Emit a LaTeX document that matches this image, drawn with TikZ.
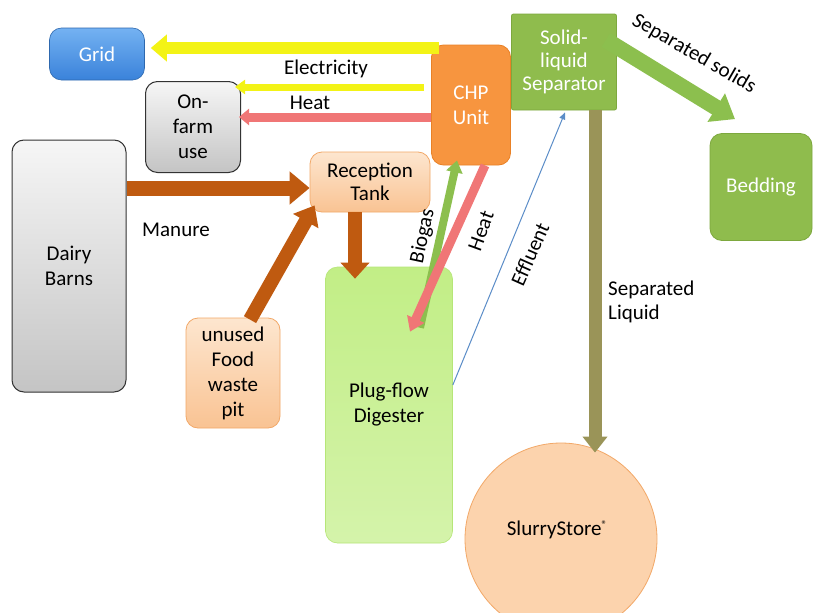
\documentclass[tikz,border=0pt]{standalone}
\usepackage{fontspec}
\setmainfont{Carlito}
\usetikzlibrary{arrows.meta,shapes.geometric,calc}
\definecolor{gridtop}{HTML}{74B2F2}
\definecolor{gridbot}{HTML}{3A82DA}
\definecolor{graytop}{HTML}{F6F6F6}
\definecolor{graybot}{HTML}{C4C4C4}
\definecolor{peachtop}{HTML}{FDE6CF}
\definecolor{peachbot}{HTML}{F9C393}
\definecolor{peachline}{HTML}{F2A868}
\definecolor{diggtop}{HTML}{C2EE86}
\definecolor{diggbot}{HTML}{B6E678}
\definecolor{chporange}{HTML}{F7953F}
\definecolor{chpline}{HTML}{E98126}
\definecolor{sepgreen}{HTML}{8FBC4D}
\definecolor{sepline}{HTML}{7DA83E}
\definecolor{elecyellow}{HTML}{F3F316}
\definecolor{heatred}{HTML}{F07676}
\definecolor{manbrown}{HTML}{BF5A10}
\definecolor{biogreen}{HTML}{8CBF4E}
\definecolor{liqkhaki}{HTML}{9A9458}
\definecolor{effblue}{HTML}{5B8DC8}
\definecolor{slurryfill}{HTML}{FCD3AD}
\begin{document}
\begin{tikzpicture}[x=1pt,y=-1pt,
  font=\fontsize{21}{25}\selectfont,
  box/.style={rounded corners=12pt, align=center, inner sep=2pt},
  graybox/.style={box, draw=black!80, line width=1pt, top color=graytop, bottom color=graybot},
  peachbox/.style={box, draw=peachline, line width=0.8pt, top color=peachtop, bottom color=peachbot},
  gridbox/.style={box, draw=gridbot!80!black, line width=0.6pt, top color=gridtop, bottom color=gridbot, text=white},
  chpbox/.style={box, draw=chpline, line width=0.8pt, fill=chporange, text=white},
  sepbox/.style={align=center, rounded corners=2pt, draw=sepline, line width=0.8pt, fill=sepgreen, text=white},
  bedbox/.style={box, draw=sepline, line width=0.8pt, fill=sepgreen, text=white},
  digbox/.style={box, draw=diggbot, line width=0.6pt, top color=diggtop, bottom color=diggtop!70!white},
  flow/.style={line cap=butt},
  lbl/.style={inner sep=0pt, align=left}
]
\clip (0,0) rectangle (814,613);
\fill[white] (0,0) rectangle (814,613);

% nodes
\node[gridbox, minimum width=95pt, minimum height=52pt] (grid) at (97,54) {Grid};
\node[graybox, minimum width=95pt, minimum height=91pt] (onfarm) at (193,127) {On-\\farm\\use};
\node[graybox, minimum width=114pt, minimum height=252pt] (dairy) at (69,266) {Dairy\\Barns};
\node[peachbox, minimum width=120pt, minimum height=60pt, font=\fontsize{21}{23}\selectfont] (recep) at (370,182) {Reception\\Tank};
\node[peachbox, minimum width=94pt, minimum height=110pt] (food) at (233,373) {unused\\Food\\waste\\pit};
\node[digbox, minimum width=127pt, minimum height=276pt] (dig) at (389,405) {Plug-flow\\Digester};
\node[chpbox, minimum width=79pt, minimum height=120pt] (chp) at (471,105) {CHP\\Unit};
\node[sepbox, minimum width=105pt, minimum height=96pt, font=\fontsize{21}{23}\selectfont] (sep) at (564,62) {Solid-\\liquid\\Separator};
\node[bedbox, minimum width=102pt, minimum height=107pt] (bed) at (761,187) {Bedding};
\node[ellipse, draw=peachline, line width=0.8pt, fill=slurryfill, minimum width=192pt, minimum height=192pt, inner sep=0pt] (slurry) at (561,539) {};
\node[lbl] (slurrytxt) at (557,530) {SlurryStore\raisebox{0.7ex}{\fontsize{11}{11}\selectfont ®}};

% arrows
\draw[flow, elecyellow, line width=12pt, -{Triangle[length=16pt,width=26pt]}]
  ([xshift=8pt]chp.west |- 0,48) -- ([xshift=6pt]grid.east |- 0,48);
\draw[flow, elecyellow, line width=7pt, -{Triangle[length=10pt,width=14pt]}]
  ([xshift=-7pt]chp.west |- 0,87) -- ([xshift=-6pt]onfarm.east |- 0,87);
\draw[flow, heatred, line width=9pt, -{Triangle[length=10pt,width=16pt]}]
  (chp.west |- 0,117) -- ([xshift=-2pt]onfarm.east |- 0,117);
\draw[flow, manbrown, line width=15pt, -{Triangle[length=20pt,width=32pt]}]
  (dairy.east |- 0,188) -- (recep.west |- 0,188);
\draw[flow, manbrown, line width=14pt, -{Triangle[length=18pt,width=28pt]}]
  ([xshift=17pt,yshift=-2pt]food.north) -- ([xshift=5pt,yshift=7pt]recep.south west);
\draw[flow, manbrown, line width=14pt, -{Triangle[length=16pt,width=28pt]}]
  ([xshift=-15pt]recep.south) -- ([xshift=-34pt,yshift=-12pt]dig.north);
\draw[flow, biogreen, line width=8pt, -{Triangle[length=12pt,width=16pt]}]
  ([xshift=31pt,yshift=-61pt]dig.north) -- ([xshift=-14pt,yshift=5pt]chp.south);
\draw[flow, heatred, line width=9pt, -{Triangle[length=14pt,width=18pt]}]
  ([xshift=14pt,yshift=0pt]chp.south) -- ([xshift=21pt,yshift=-65pt]dig.north);
\draw[effblue, line width=1pt, -{Triangle[length=7pt,width=6pt]}]
  ([yshift=20pt]dig.east) -- ([xshift=1pt,yshift=-2pt]sep.south);
\draw[flow, liqkhaki, line width=13pt, -{Triangle[length=16pt,width=24pt]}]
  ([xshift=31pt]sep.south) -- ([xshift=34pt,yshift=-10pt]slurry.north);
\draw[flow, biogreen, line width=16pt, -{Triangle[length=22pt,width=32pt]}]
  ([xshift=-11pt,yshift=22pt]sep.east) -- ([xshift=-26pt,yshift=14pt]bed.north);

% labels
\node[lbl] (lelec) at (326,69) {Electricity};
\node[lbl] (lheat) at (310,103) {Heat};
\node[lbl] (lman) at (176,230) {Manure};
\node[lbl, rotate=78] (lbio) at (423,236) {Biogas};
\node[lbl, rotate=70] (lheat2) at (481,231) {Heat};
\node[lbl, rotate=66] (leff) at (530,254) {Effluent};
\node[lbl, anchor=west, font=\fontsize{21}{24}\selectfont] (lliq) at (608,302) {Separated\\Liquid};
\node[lbl, rotate=-30] (lsol) at (694,54) {Separated solids};
\end{tikzpicture}
\end{document}
